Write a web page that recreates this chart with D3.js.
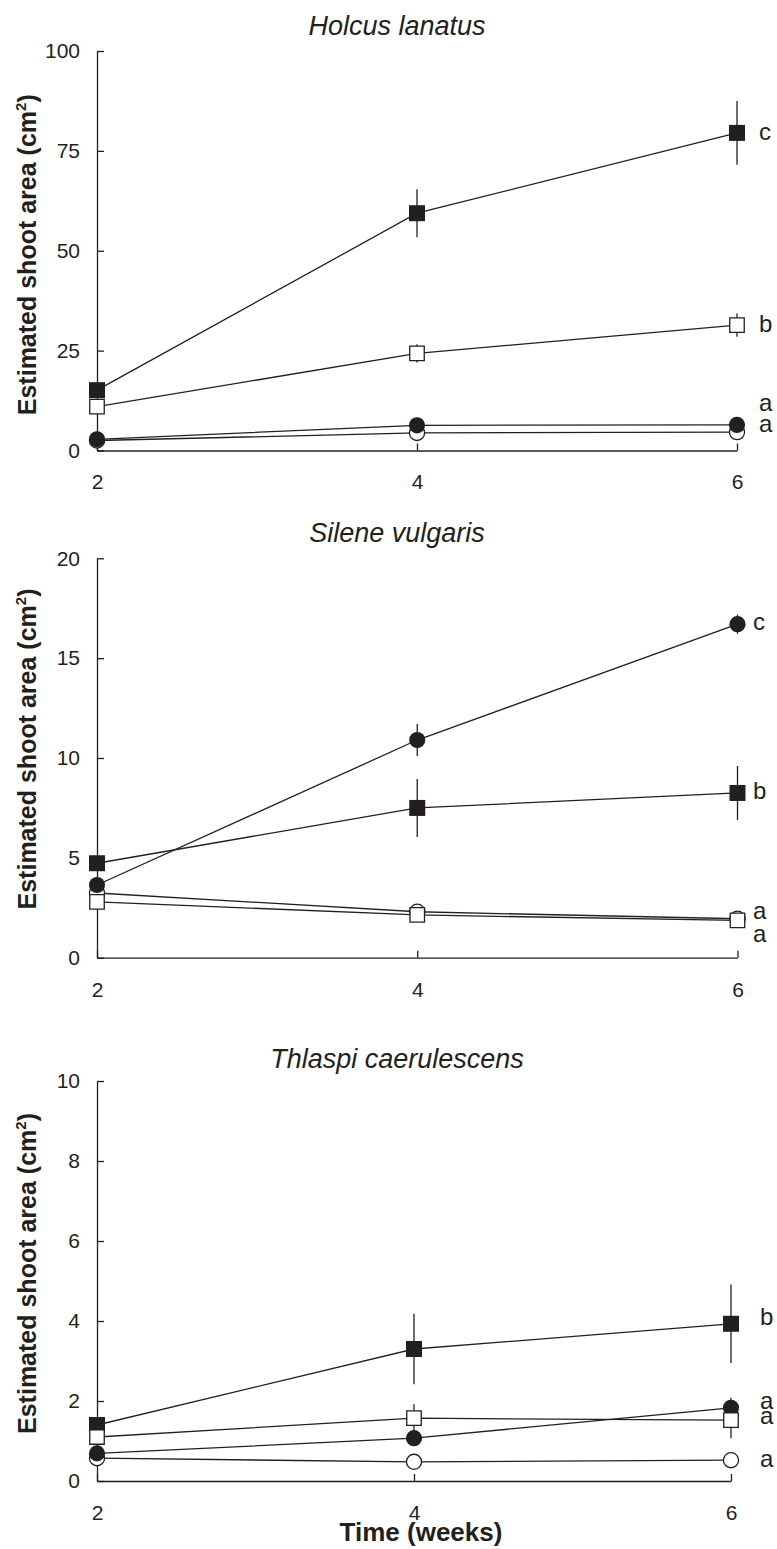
<!DOCTYPE html>
<html lang="en">
<head>
    <meta charset="UTF-8">
    <title>Estimated shoot area over time</title>
    <script src="https://d3js.org/d3.v7.min.js"></script>
    <style>
        body {
            margin: 0;
            background: #fff;
        }
        svg {
            display: block;
            font-family: "Liberation Sans", Arial, Helvetica, sans-serif;
        }
        .tick text {
            font-size: 21px;
            fill: #231f20;
        }
        .domain, .tick line {
            stroke: #231f20;
            stroke-width: 1.3;
        }
    </style>
</head>
<body>
    <div id="chart"></div>
    <script>
        const weeks = [2, 4, 6];
        const xTicks = [2, 4, 6];

        // Holcus lanatus
        const holcusTicks = [0, 25, 50, 75, 100];
        const holcusFilledSquare = [15.1, 59.4, 79.5];
        const holcusFilledSquareErr = [0.8, 6, 8];
        const holcusOpenSquare = [11.0, 24.3, 31.4];
        const holcusOpenSquareErr = [0.8, 2.3, 2.9];
        const holcusFilledCircle = [2.8, 6.3, 6.4];
        const holcusFilledCircleErr = [0.3, 0.8, 0.8];
        const holcusOpenCircle = [2.5, 4.4, 4.6];
        const holcusOpenCircleErr = [0.2, 0.5, 0.5];
        const holcusLetters = ["c", "b", "a", "a"];
        const holcusLetterAt = [79.4, 31.4, 11.8, 6.4];

        // Silene vulgaris
        const sileneTicks = [0, 5, 10, 15, 20];
        const sileneFilledSquare = [4.73, 7.5, 8.25];
        const sileneFilledSquareErr = [0.3, 1.45, 1.35];
        const sileneOpenSquare = [2.8, 2.14, 1.87];
        const sileneOpenSquareErr = [0.2, 0.2, 0.2];
        const sileneFilledCircle = [3.64, 10.9, 16.7];
        const sileneFilledCircleErr = [0.2, 0.8, 0.48];
        const sileneOpenCircle = [3.24, 2.3, 1.95];
        const sileneOpenCircleErr = [0.2, 0.2, 0.2];
        const sileneLetters = ["c", "b", "a", "a"];
        const sileneLetterAt = [16.76, 8.31, 2.3, 1.14];

        // Thlaspi caerulescens
        const thlaspiTicks = [0, 2, 4, 6, 8, 10];
        const thlaspiFilledSquare = [1.4, 3.3, 3.93];
        const thlaspiFilledSquareErr = [0.1, 0.88, 0.98];
        const thlaspiOpenSquare = [1.1, 1.57, 1.52];
        const thlaspiOpenSquareErr = [0.05, 0.35, 0.45];
        const thlaspiFilledCircle = [0.69, 1.07, 1.83];
        const thlaspiFilledCircleErr = [0.05, 0.1, 0.25];
        const thlaspiOpenCircle = [0.57, 0.48, 0.52];
        const thlaspiOpenCircleErr = [0, 0, 0];
        const thlaspiLetters = ["b", "a", "a", "a"];
        const thlaspiLetterAt = [4.07, 1.98, 1.6, 0.52];

        const ink = "#231f20";
        const W = 777, H = 1549;

        const svg = d3.select("#chart").append("svg")
            .attr("width", W)
            .attr("height", H);

        function makeSeries(fs, fsErr, os, osErr, fc, fcErr, oc, ocErr) {
            // draw order: open circle, filled circle, filled square, open square
            return [
                {shape: d3.symbolCircle, filled: false, values: oc, err: ocErr},
                {shape: d3.symbolCircle, filled: true, values: fc, err: fcErr},
                {shape: d3.symbolSquare, filled: true, values: fs, err: fsErr},
                {shape: d3.symbolSquare, filled: false, values: os, err: osErr}
            ];
        }

        const panels = [
            {
                title: "Holcus lanatus", titleY: 35,
                top: 51, bottom: 450.5, xRange: [97, 737], max: 100, ticks: holcusTicks,
                series: makeSeries(holcusFilledSquare, holcusFilledSquareErr, holcusOpenSquare, holcusOpenSquareErr,
                    holcusFilledCircle, holcusFilledCircleErr, holcusOpenCircle, holcusOpenCircleErr),
                letters: holcusLetters, letterAt: holcusLetterAt, letterX: 759, labelShift: 4
            },
            {
                title: "Silene vulgaris", titleY: 542,
                top: 558.3, bottom: 957.7, xRange: [97, 737.5], max: 20, ticks: sileneTicks,
                series: makeSeries(sileneFilledSquare, sileneFilledSquareErr, sileneOpenSquare, sileneOpenSquareErr,
                    sileneFilledCircle, sileneFilledCircleErr, sileneOpenCircle, sileneOpenCircleErr),
                letters: sileneLetters, letterAt: sileneLetterAt, letterX: 753, labelShift: -9
            },
            {
                title: "Thlaspi caerulescens", titleY: 1068,
                top: 1081, bottom: 1481, xRange: [97, 731], max: 10, ticks: thlaspiTicks,
                series: makeSeries(thlaspiFilledSquare, thlaspiFilledSquareErr, thlaspiOpenSquare, thlaspiOpenSquareErr,
                    thlaspiFilledCircle, thlaspiFilledCircleErr, thlaspiOpenCircle, thlaspiOpenCircleErr),
                letters: thlaspiLetters, letterAt: thlaspiLetterAt, letterX: 760, labelShift: -7.5
            }
        ];

        panels.forEach(p => {
            const x = d3.scaleLinear().domain([2, 6]).range(p.xRange);
            const y = d3.scaleLinear().domain([0, p.max]).range([p.bottom, p.top]);
            const g = svg.append("g");

            // title
            g.append("text")
                .attr("x", 397)
                .attr("y", p.titleY)
                .attr("text-anchor", "middle")
                .attr("font-size", 27)
                .attr("font-style", "italic")
                .attr("fill", ink)
                .text(p.title);

            // axes, ticks pointing inward
            const yAxis = g.append("g")
                .attr("transform", `translate(${p.xRange[0]},0)`)
                .call(d3.axisLeft(y).tickValues(p.ticks).tickFormat(d3.format("d"))
                    .tickSizeInner(-7).tickSizeOuter(0).tickPadding(17));
            const xAxis = g.append("g")
                .attr("transform", `translate(0,${p.bottom})`)
                .call(d3.axisBottom(x).tickValues(xTicks).tickFormat(d3.format("d"))
                    .tickSizeInner(-7).tickSizeOuter(0).tickPadding(24));
            [yAxis, xAxis].forEach(a => a.attr("font-family", null).attr("font-size", null));

            // y label
            const cy = (p.top + p.bottom) / 2 + p.labelShift;
            const lab = g.append("text")
                .attr("transform", `translate(36,${cy}) rotate(-90)`)
                .attr("text-anchor", "middle")
                .attr("font-size", 25)
                .attr("font-weight", "bold")
                .attr("fill", ink);
            lab.append("tspan").text("Estimated shoot area (cm");
            lab.append("tspan").attr("font-size", 15).attr("dy", -10).text("2");
            lab.append("tspan").attr("dy", 10).text(")");

            const line = d3.line()
                .x((d, i) => x(weeks[i]))
                .y(d => y(d));

            // lines
            g.selectAll(".series-line")
                .data(p.series)
                .join("path")
                .attr("class", "series-line")
                .attr("fill", "none")
                .attr("stroke", ink)
                .attr("stroke-width", 1.3)
                .attr("d", s => line(s.values));

            // error bars
            p.series.forEach(s => {
                g.selectAll(null)
                    .data(s.values)
                    .join("line")
                    .attr("x1", (d, i) => x(weeks[i]))
                    .attr("x2", (d, i) => x(weeks[i]))
                    .attr("y1", (d, i) => y(d + s.err[i]))
                    .attr("y2", (d, i) => y(d - s.err[i]))
                    .attr("stroke", ink)
                    .attr("stroke-width", 1.3);
            });

            // markers
            p.series.forEach(s => {
                const size = s.shape === d3.symbolSquare ? (s.filled ? 256 : 210) : (s.filled ? 205 : 180);
                g.selectAll(null)
                    .data(s.values)
                    .join("path")
                    .attr("transform", (d, i) => `translate(${x(weeks[i])},${y(d)})`)
                    .attr("d", d3.symbol().type(s.shape).size(size))
                    .attr("fill", s.filled ? ink : "#fff")
                    .attr("stroke", ink)
                    .attr("stroke-width", s.filled ? 0 : 1.3);
            });

            // significance letters
            g.selectAll(null)
                .data(p.letters)
                .join("text")
                .attr("x", p.letterX)
                .attr("y", (d, i) => y(p.letterAt[i]))
                .attr("dy", "0.3em")
                .attr("font-size", 24)
                .attr("fill", ink)
                .text(d => d);
        });

        // x label
        svg.append("text")
            .attr("x", 421)
            .attr("y", 1541)
            .attr("text-anchor", "middle")
            .attr("font-size", 26)
            .attr("font-weight", "bold")
            .attr("fill", ink)
            .text("Time (weeks)");
    </script>
</body>
</html>
